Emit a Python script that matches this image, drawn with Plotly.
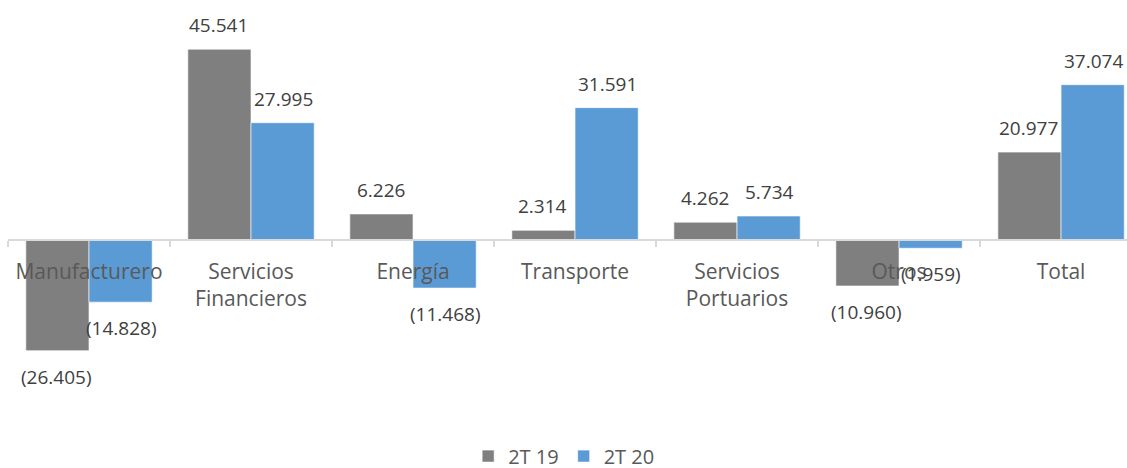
import plotly.graph_objects as go

categories = ["Manufacturero", "Servicios<br>Financieros", "Energía", "Transporte",
              "Servicios<br>Portuarios", "Otros", "Total"]
series_names = ["2T 19", "2T 20"]
values_2t19 = [-26.405, 45.541, 6.226, 2.314, 4.262, -10.960, 20.977]
values_2t20 = [-14.828, 27.995, -11.468, 31.591, 5.734, -1.959, 37.074]
colors = ["#7F7F7F", "#5B9BD5"]

FONT = "Open Sans"


def fmt(v):
    s = f"{abs(v):.3f}"
    return f"({s})" if v < 0 else s


fig = go.Figure()
for name, vals, col in zip(series_names, [values_2t19, values_2t20], colors):
    fig.add_trace(go.Bar(
        name=name, x=categories, y=vals,
        marker=dict(color=col, line=dict(color="rgba(255,255,255,0.6)", width=1)),
        hoverinfo="skip",
    ))

# data labels
annotations = []
for i, (vals, off) in enumerate(zip([values_2t19, values_2t20], [-0.2, 0.2])):
    for j, v in enumerate(vals):
        annotations.append(dict(
            x=j + off, y=v, xref="x", yref="y", text=fmt(v), showarrow=False,
            yanchor="middle", yshift=24 if v >= 0 else -26,
            font=dict(family=FONT, size=19, color="#404040"),
        ))

ymin, ymax = -54.4, 54.89
fig.update_layout(
    width=1127, height=468,
    margin=dict(l=8, r=0, t=10, b=0, autoexpand=False),
    paper_bgcolor="white", plot_bgcolor="white",
    barmode="group", bargap=0.22, bargroupgap=0,
    showlegend=True,
    legend=dict(orientation="h", x=0.497, xanchor="center", y=0.026, yanchor="middle",
                font=dict(family=FONT, size=20, color="#595959"), traceorder="normal",
                bgcolor="rgba(0,0,0,0)"),
    xaxis=dict(
        type="category", range=[-0.5, 6.407], automargin=False,
        anchor="free", position=-ymin / (ymax - ymin),
        showline=True, linecolor="#D9D9D9", linewidth=1.5,
        ticks="outside", tickson="boundaries", ticklen=6, tickcolor="#D9D9D9", tickwidth=1.5,
        tickfont=dict(family=FONT, size=21, color="#595959"),
        ticklabelstandoff=13,
        showgrid=False, zeroline=False,
    ),
    yaxis=dict(range=[ymin, ymax], visible=False, showgrid=False, zeroline=False,
               automargin=False),
    annotations=annotations,
    font=dict(family=FONT),
)

fig.write_html(
    "out.html",
    config={"displayModeBar": False},
    post_script="document.documentElement.style.margin='0';document.body.style.margin='0';"
                "document.body.style.overflow='hidden';",
)
